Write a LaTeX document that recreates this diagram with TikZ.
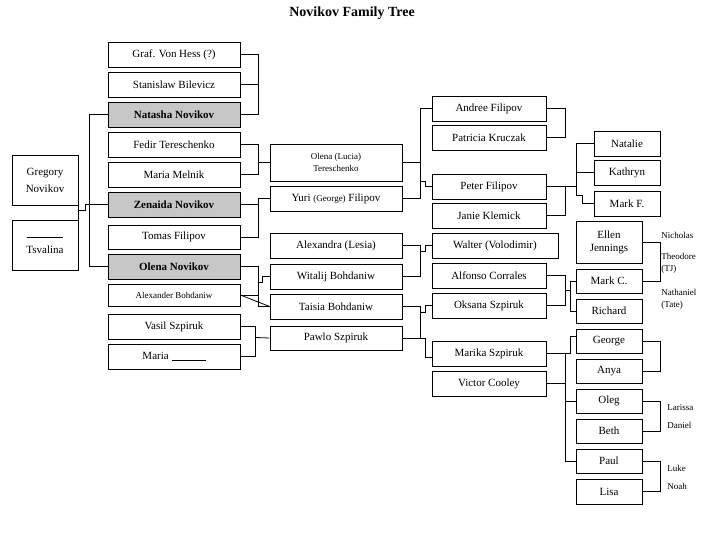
\documentclass[tikz,border=0pt]{standalone}
\usepackage{fontspec}
\setmainfont{Liberation Serif}
\begin{document}
\begin{tikzpicture}[x=1pt,y=-1pt,line width=0.8pt,
  box/.style={draw=black,rectangle,inner sep=0pt,align=center,font=\fontsize{11}{13}\selectfont},
  kin/.style={fill=black!22,font=\fontsize{11}{13}\selectfont\bfseries},
  sm/.style={font=\fontsize{9}{12}\selectfont},
  lbl/.style={anchor=west,inner sep=0pt,align=left,font=\fontsize{9}{12}\selectfont}]
\useasboundingbox (0,0) rectangle (720,540);
\newcommand\bx[7][]{\node[box,#1,minimum width={#5-#4},minimum height={#7-#6}] (#2) at ({(#4+#5)/2},{(#6+#7)/2}) {#3};}
\node[font=\fontsize{14}{16}\selectfont\bfseries] (title) at (352,13) {Novikov Family Tree};
% column 1
\bx{greg}{Gregory\\[4pt]Novikov}{12}{78}{155}{205}
\bx{tsv}{\rule[3pt]{36pt}{0.5pt}\\Tsvalina}{12}{78}{220}{270}
% column 2
\bx{graf}{Graf. Von Hess (?)}{108}{240}{42}{67}
\bx{stan}{Stanislaw Bilevicz}{108}{240}{72}{97}
\bx[kin]{nat}{Natasha Novikov}{108}{240}{102}{127}
\bx{fed}{Fedir Tereschenko}{108}{240}{132}{157}
\bx{mmel}{Maria Melnik}{108}{240}{162}{187}
\bx[kin]{zen}{Zenaida Novikov}{108}{240}{192}{217}
\bx{tom}{Tomas Filipov}{108}{240}{225}{249}
\bx[kin]{olen}{Olena Novikov}{108}{240}{254}{279}
\bx[sm]{alex}{Alexander Bohdaniw}{108}{240}{284}{306}
\bx{vas}{Vasil Szpiruk}{108}{240}{314}{339}
\bx{mar}{Maria \rule[-1pt]{34pt}{0.5pt}}{108}{240}{344}{369}
% column 3
\bx[sm]{olu}{Olena (Lucia)\\Tereschenko}{270}{402}{144}{181}
\bx{yuri}{Yuri {\fontsize{9}{11}\selectfont(George)} Filipov}{270}{402}{186}{211}
\bx{alx}{Alexandra (Lesia)}{270}{402}{233}{258}
\bx{wit}{Witalij Bohdaniw}{270}{402}{264}{289}
\bx{tai}{Taisia Bohdaniw}{270}{402}{294}{319}
\bx{paw}{Pawlo Szpiruk}{270}{402}{326}{350}
% column 4
\bx{and}{Andree Filipov}{432}{546}{96}{121}
\bx{pat}{Patricia Kruczak}{432}{546}{125}{150}
\bx{pet}{Peter Filipov}{432}{546}{174}{199}
\bx{jan}{Janie Klemick}{432}{546}{203}{228}
\bx{wal}{Walter (Volodimir)}{432}{558}{233}{258}
\bx{alf}{Alfonso Corrales}{432}{546}{263}{288}
\bx{oks}{Oksana Szpiruk}{432}{546}{293}{318}
\bx{mrk}{Marika Szpiruk}{432}{546}{341}{366}
\bx{vic}{Victor Cooley}{432}{546}{371}{396}
% column 5
\bx{ntl}{Natalie}{594}{660}{131}{156}
\bx{kat}{Kathryn}{594}{660}{160}{185}
\bx{mkf}{Mark F.}{594}{660}{191}{216}
\bx{ell}{Ellen\\Jennings}{576}{642}{221}{263}
\bx{mkc}{Mark C.}{576}{642}{269}{293}
\bx{ric}{Richard}{576}{642}{299}{323}
\bx{geo}{George}{576}{642}{329}{353}
\bx{any}{Anya}{576}{642}{359}{383}
\bx{ole}{Oleg}{576}{642}{389}{413}
\bx{bet}{Beth}{576}{642}{419}{443}
\bx{pau}{Paul}{576}{642}{449}{473}
\bx{lis}{Lisa}{576}{642}{479}{504}
% labels
\node[lbl] (nic) at (661,235) {Nicholas};
\node[lbl] (the) at (661,263) {Theodore\\(TJ)};
\node[lbl] (nath) at (661,299) {Nathaniel\\(Tate)};
\node[lbl] (lar) at (667,408) {Larissa};
\node[lbl] (dan) at (667,425) {Daniel};
\node[lbl] (luk) at (667,468) {Luke};
\node[lbl] (noa) at (667,486) {Noah};
% connectors
\draw (graf.east) -- ++(18,0) |- (nat.east);
\draw (stan.east) -- ++(18,0);
\draw (greg.south east) -- (tsv.north east);
\draw (greg.south east) ++(0,5) coordinate (gj) -- ++(7,0) |- (zen.west);
\draw (nat.west) -- ++(-18,0) |- (olen.west);
\draw (fed.east) -- ++(18,0) |- (mmel.east);
\draw (fed.east) ++(18,18) -- (olu.west);
\draw (zen.east) -- ++(18,0) |- (tom.east);
\draw (zen.east) ++(18,0) |- (yuri.west);
\draw (olen.east) -- ++(18,0) |- (alex.east);
\draw (alex.east) -- (tai.west);
\draw (olen.east) ++(18,0) ++(0,16) -- ++(4,0) |- (wit.west);
\draw (alex.east) ++(18,0) |- (tai.west);
\draw (vas.east) -- ++(15,0) |- (mar.east);
\draw (vas.east) ++(15,11) -- (paw.west);
% col3 -> col4
\draw (olu.east) -- ++(18,0) |- (yuri.east);
\draw (olu.east) ++(18,0) |- (and.west);
\draw (yuri.east) ++(18,-17) -- ++(5,0) |- (pet.west);
\draw (alx.east) -- ++(18,0) |- (wit.east);
\draw (alx.east) ++(18,6) -- ++(5,0) |- (wal.west);
\draw (tai.east) -- ++(18,0) |- (paw.east);
\draw (tai.east) ++(18,6) -- ++(5,0) |- (oks.west);
\draw (paw.east) ++(18,0) -- ++(5,0) |- ([yshift=-4pt]mrk.west);
% col4 -> col5
\draw (and.east) -- ++(19,0) |- (pat.east);
\draw (pet.east) -- ++(19,0) |- (jan.east);
\draw (pet.east) -- ++(30,0) coordinate (pj);
\draw (pj) |- (ntl.west);
\draw (pj) |- (kat.west);
\draw (pj) -- ++(0,9) -- ++(6,0) |- (mkf.west);
\draw (alf.east) -- ++(19,0) |- (oks.east);
\draw (alf.east) ++(19,15) coordinate (aj) -- ++(5,0) |- (mkc.west);
\draw (aj) ++(5,0) |- (ric.west);
\draw (mrk.east) -- ++(19,0) |- (vic.east);
\draw (mrk.east) ++(19,0) -- ++(5,0) |- ([yshift=5pt]geo.west);
\draw (mrk.east) ++(19,0) |- (pau.west);
\draw (mrk.east) ++(19,0) |- (ole.west);
% col5 couples
\draw (ell.east) -- ++(18,0) |- (mkc.east);
\draw (geo.east) -- ++(18,0) |- (any.east);
\draw (ole.east) -- ++(18,0) |- (bet.east);
\draw (pau.east) -- ++(18,0) |- (lis.east);
\end{tikzpicture}
\end{document}
